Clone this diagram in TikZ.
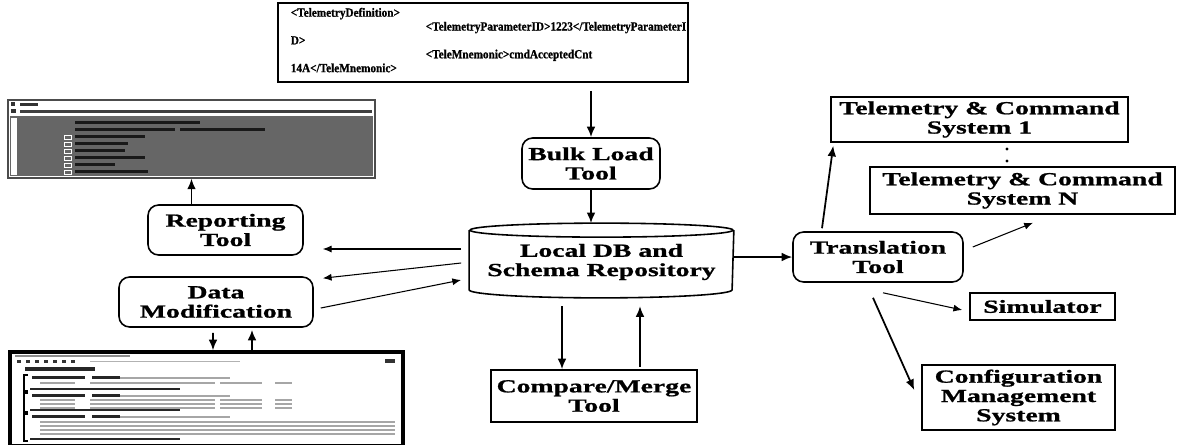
\documentclass[tikz,border=0pt]{standalone}
\usepackage{fontspec}
\setmainfont{Liberation Serif}[FakeStretch=1.5,FakeBold=1]
\newfontfamily\xmlfont{Liberation Serif}[FakeStretch=0.9,FakeBold=1]
\usepackage{tikz}
\usetikzlibrary{arrows,arrows.meta}
\usetikzlibrary{positioning}
\usetikzlibrary{calc}

\begin{document}
\begin{tikzpicture}[->,>={Latex[length=6pt,width=5pt]},line width=1pt,x=0.02cm,y=-0.02cm,
    font=\fontsize{10.5}{11}\selectfont\bfseries,
    tool/.style={shape=rectangle,rounded corners=6pt,draw=black,line width=0.9pt,align=center,inner sep=0pt},
    sysbox/.style={shape=rectangle,draw=black,line width=0.9pt,align=center,inner sep=0pt},
    shot/.style={shape=rectangle,inner sep=0pt,fill=white},
    thinarrow/.style={line width=0.6pt,>={Latex[length=5pt,width=4pt]}}]

        \useasboundingbox (0,0) rectangle (1177,444);

        % XML source
        \node[sysbox,minimum width=8.2cm,minimum height=1.58cm] (xmldef) at (483,42.5) {};
        \node[anchor=north west,align=left,inner sep=0pt,
              font=\xmlfont\bfseries\fontsize{7.1}{7.9}\selectfont] (xmltext) at (290,7)
            {<TelemetryDefinition>\\
             \hspace*{2.7cm}<TelemetryParameterID>1223</TelemetryParameterI\\
             D>\\
             \hspace*{2.7cm}<TeleMnemonic>cmdAcceptedCnt\\
             14A</TeleMnemonic>};

        % Tools
        \node[tool,minimum width=2.76cm,minimum height=1.02cm] (bulk) at (591,163.5) {Bulk Load\\Tool};
        \node[tool,minimum width=3.4cm,minimum height=1.0cm] (trans) at (878,257) {Translation\\Tool};
        \node[tool,minimum width=3.1cm,minimum height=1.0cm] (report) at (225.5,230) {Reporting\\Tool};
        \node[tool,minimum width=3.88cm,minimum height=1.0cm] (datamod) at (216,302) {Data\\Modification};
        \node[sysbox,minimum width=4.12cm,minimum height=1.04cm] (merge) at (594,396) {Compare/Merge\\Tool};

        % Repository
        \node[align=center,inner sep=0pt,minimum width=5.26cm,minimum height=1.52cm] (db) at (601.5,262) {Local DB and\\Schema Repository};
        \draw[-,line width=0.9pt] ($(db.north)+(0,7)$) ellipse [x radius=2.63cm,y radius=0.14cm];
        \draw[-,line width=0.9pt] ($(db.north west)+(0,7)$) -- ($(db.south west)+(0,-11)$)
            arc [start angle=180,end angle=360,x radius=2.63cm,y radius=0.16cm] -- ($(db.north east)+(0,7)$);

        % Target systems
        \node[sysbox,minimum width=5.94cm,minimum height=0.9cm] (tcs1) at (979.5,119.5) {Telemetry \& Command\\System 1};
        \node[sysbox,minimum width=6.1cm,minimum height=0.94cm] (tcsN) at (1022.5,190.5) {Telemetry \& Command\\System N};
        \node[sysbox,minimum width=2.9cm,minimum height=0.54cm] (sim) at (1042.5,306.5) {Simulator};
        \node[sysbox,minimum width=3.86cm,minimum height=1.3cm] (cms) at (1018.5,397.5) {Configuration\\Management\\System};
        \fill (1007,149) circle (0.9pt);
        \fill (1007,161) circle (0.9pt);

        % XML Spy view
        \node[shot,draw=black!70,line width=0.8pt,minimum width=7.34cm,minimum height=1.56cm] (xmlspy) at (191.5,139) {};
        \fill[black!80] (11,102) rectangle (15,106);
        \fill[black!80] (20,103) rectangle (38,106);
        \fill[black!80] (11,109) rectangle (16,113);
        \fill[black!75] (20,109.5) rectangle (372,112.5);
        \fill[black!60] (10,116) rectangle (373,176);
        \fill[white] (11,118) rectangle (17,175);
        \foreach \w [count=\r from 0] in {200,175,145,128,125,145,115,148}
            \fill[black!90] (75,{121+7*\r}) rectangle (\w,{124+7*\r});
        \fill[black!90] (180,128) rectangle (265,131);
        \foreach \r in {2,...,7}
            \draw[-,white,line width=0.5pt] (64,{121+7*\r}) rectangle (71,{125+7*\r});

        % editor view
        \node[shot,draw=black,line width=2pt,minimum width=7.86cm,minimum height=1.88cm] (editor) at (206.5,399) {};
        \fill[black!45] (15,355) rectangle (130,357);
        \foreach \i in {0,...,6}
            \fill[black!80] ({17+9*\i},360) rectangle ++(4,3);
        \fill[black!30] (90,360.5) rectangle (240,362);
        \fill[black!80] (385,359) rectangle (395,363);
        \fill[black!85] (25,367) rectangle (95,371);
        \foreach \top/\bot in {375/391,393/412,414/441}
            \draw[-,line width=0.6pt] (28,\top) -- (24,\top) -- (24,\bot) -- (28,\bot);
        \foreach \y in {376,394,415} {
            \fill[black!85] (32,\y) rectangle (85,\y+3);
            \fill[black!85] (92,\y) rectangle (120,\y+3);
            \fill[black!35] (120,\y+0.5) rectangle (230,\y+2.5);
        }
        \foreach \y in {382,399,403,407} {
            \fill[black!35] (40,\y) rectangle (75,\y+2);
            \fill[black!35] (90,\y) rectangle (215,\y+2);
            \fill[black!35] (220,\y) rectangle (262,\y+2);
            \fill[black!35] (275,\y) rectangle (292,\y+2);
        }
        \foreach \y in {421,425,429,433}
            \fill[black!35] (40,\y) rectangle (395,\y+2);
        \foreach \y in {388,409,438}
            \fill[black!85] (30,\y) rectangle (180,\y+2);

        % Arrows into the repository
        \path (xmldef.south -| bulk.north) edge[shorten <=0.16cm] (bulk.north);
        \path (bulk.south) edge (bulk.south |- db.north);
        \path (trans.west -| db.east) edge (trans.west);

        % Arrows out of the translation tool
        \path ($(trans.north)+(-56,-3)$) edge ($(tcs1.south west)+(3,3)$);
        \path ($(trans.east)+(9,-10)$) edge[thinarrow] ($(tcsN.south)+(10.5,8)$);
        \path ($(trans.south)+(5,10)$) edge[thinarrow] ($(sim.west)+(-7,3.5)$);
        \path ($(trans.south)+(-5,15)$) edge ($(cms.west)+(-7,-7.5)$);

        % Merge tool
        \path ($(merge.north)+(-32,-63)$) edge ($(merge.north)+(-32,0)$);
        \path ($(merge.north)+(46,-2)$) edge ($(merge.north)+(46,-63)$);

        % Reporting and editing
        \path ($(db.west)+(-8,-13)$) edge[thinarrow] ($(report.east)+(19,19)$);
        \path ($(db.west)+(-8,1)$) edge[thinarrow] ($(datamod.north east)+(9,2)$);
        \path ($(datamod.east)+(7,6)$) edge[thinarrow] ($(db.west)+(-8,18)$);
        \path (xmlspy.south |- report.north) edge (xmlspy.south);
        \path ($(datamod.south)+(-3,5)$) edge ($(editor.north)+(6.5,0)$);
        \path ($(editor.north)+(45.5,0)$) edge ($(datamod.south)+(36,2)$);

\end{tikzpicture}
\end{document}
